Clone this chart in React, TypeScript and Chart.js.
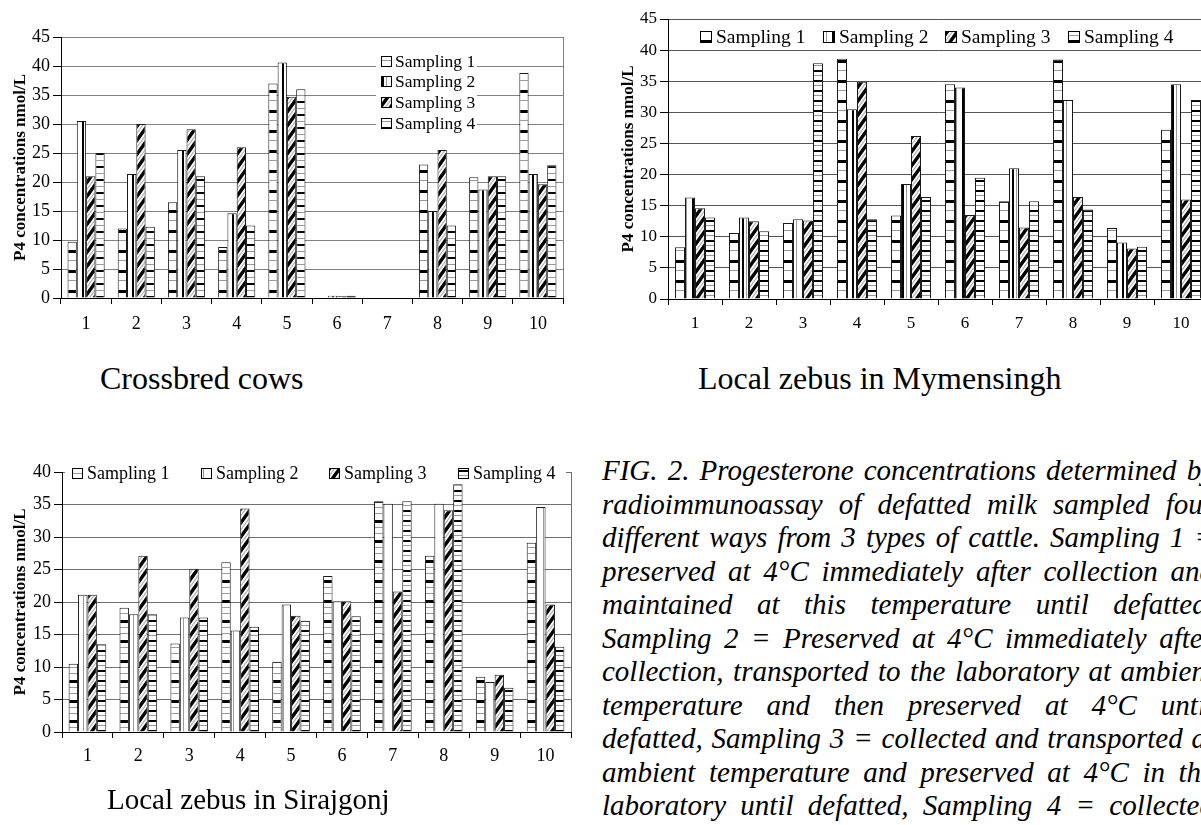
import React, { useEffect, useRef } from "react";
import { Chart, registerables } from "chart.js";

Chart.register(...registerables);

const SERIF = '"Liberation Serif", "Times New Roman", Times, serif';

const categories = ["1", "2", "3", "4", "5", "6", "7", "8", "9", "10"];
const seriesNames = ["Sampling 1", "Sampling 2", "Sampling 3", "Sampling 4"];
const yAxisTitle = "P4 concentrations nmol/L";

// Crossbred cows
const crossS1 = [9.7, 12.0, 16.5, 8.8, 37.0, 0.1, 0.1, 23.0, 20.8, 38.8];
const crossS2 = [30.5, 21.4, 25.5, 14.6, 40.6, 0.4, 0.1, 15.0, 18.7, 21.4];
const crossS3 = [21.0, 30.0, 29.1, 26.0, 34.7, 0.3, 0.1, 25.5, 21.0, 19.6];
const crossS4 = [25.0, 12.3, 21.0, 12.5, 36.0, 0.4, 0.1, 12.5, 21.0, 22.9];

// Local zebus in Mymensingh
const mymS1 = [8.3, 10.6, 12.2, 38.6, 13.4, 34.5, 15.7, 38.5, 11.4, 27.2];
const mymS2 = [16.3, 13.1, 12.8, 30.5, 18.5, 34.0, 21.0, 32.0, 9.1, 34.5];
const mymS3 = [14.6, 12.5, 12.6, 34.9, 26.2, 13.5, 11.5, 16.4, 8.1, 16.0];
const mymS4 = [13.1, 10.9, 37.9, 12.8, 16.4, 19.5, 15.7, 14.4, 8.4, 32.0];

// Local zebus in Sirajgonj
const sirS1 = [10.5, 19.1, 13.6, 26.1, 10.8, 24.0, 35.5, 27.1, 8.5, 29.1];
const sirS2 = [21.1, 18.1, 17.6, 15.6, 19.6, 20.1, 35.1, 35.1, 7.7, 34.6];
const sirS3 = [21.1, 27.1, 25.1, 34.4, 17.9, 20.1, 21.6, 34.1, 8.8, 19.6];
const sirS4 = [13.5, 18.1, 17.6, 16.2, 17.1, 17.8, 35.5, 38.1, 6.8, 13.1];

const panelTitles = ["Crossbred cows", "Local zebus in Mymensingh", "Local zebus in Sirajgonj"];

const captionLines = [
  "FIG. 2. Progesterone concentrations determined by",
  "radioimmunoassay of defatted milk sampled four",
  "different ways from 3 types of cattle. Sampling 1 =",
  "preserved at 4°C immediately after collection and",
  "maintained at this temperature until defatted,",
  "Sampling 2 = Preserved at 4°C immediately after",
  "collection, transported to the laboratory at ambient",
  "temperature and then preserved at 4°C until",
  "defatted, Sampling 3 = collected and transported at",
  "ambient temperature and preserved at 4°C in the",
  "laboratory until defatted, Sampling 4 = collected",
];

function makePattern(kind: string): CanvasPattern | string {
  const c = document.createElement("canvas");
  const g = c.getContext("2d");
  if (!g) return "#fff";
  const grey = "#9a9a9a";
  const white = (w: number, h: number) => {
    c.width = w;
    c.height = h;
    g.fillStyle = "#fff";
    g.fillRect(0, 0, w, h);
  };
  if (kind === "hdash") {
    white(10, 20);
    g.fillStyle = "#000";
    g.fillRect(0, 0, 10, 3);
    g.fillStyle = grey;
    g.fillRect(0, 10, 10, 1);
  } else if (kind === "hdashGrey") {
    white(10, 20);
    g.fillStyle = "#000";
    g.fillRect(0, 0, 10, 3);
    g.fillStyle = grey;
    g.fillRect(0, 7, 10, 1);
    g.fillRect(0, 13, 10, 1);
  } else if (kind === "vline") {
    white(10, 4);
    g.fillStyle = "#000";
    g.fillRect(2, 0, 2, 4);
    g.fillStyle = grey;
    g.fillRect(6, 0, 1, 4);
  } else if (kind === "vlineLight") {
    white(10, 4);
    g.fillStyle = grey;
    g.fillRect(3, 0, 1, 4);
  } else if (kind === "diag") {
    white(10, 14);
    const line = (k: number, color: string, lw: number) => {
      g.strokeStyle = color;
      g.lineWidth = lw;
      g.beginPath();
      g.moveTo(-3, 14 + 1.4 * 3 + 14 * k);
      g.lineTo(13, 14 - 1.4 * 13 + 14 * k);
      g.stroke();
    };
    for (const k of [-1, 0, 1]) line(k, "#000", 3.4);
    for (const k of [-1.5, -0.5, 0.5, 1.5]) line(k, "#b0b0b0", 1.2);
  } else if (kind.startsWith("hstripe")) {
    const s = parseInt(kind.slice(7), 10) || 10;
    white(10, s);
    g.fillStyle = "#000";
    g.fillRect(0, 0, 10, 2);
    g.fillStyle = grey;
    g.fillRect(0, Math.round(s / 2), 10, 1);
  }
  const p = g.createPattern(c, "repeat");
  return p || "#fff";
}

type LegendSpec = {
  x: number;
  y: number;
  dx: number;
  dy: number;
  icon: number;
  gap: number;
  fontSize: number;
  box?: [number, number, number, number];
};

type PanelSpec = {
  left: number;
  top: number;
  width: number;
  height: number;
  series: number[][];
  patterns: string[];
  yMax: number;
  yAxisWidth: number;
  xAxisHeight: number;
  padding: { left: number; right: number; top: number; bottom: number };
  gridColor: string;
  tickFont: number;
  titlePad: number;
  xLabelPad: number;
  legend: LegendSpec;
};

function Panel({ spec }: { spec: PanelSpec }) {
  const ref = useRef<HTMLCanvasElement>(null);
  useEffect(() => {
    const canvas = ref.current;
    if (!canvas) return;
    const fills = spec.patterns.map((k) => makePattern(k));
    const L = spec.legend;
    const deco = {
      id: "deco",
      afterDraw(chart: any) {
        const ctx = chart.ctx as CanvasRenderingContext2D;
        const a = chart.chartArea;
        ctx.save();
        ctx.strokeStyle = spec.gridColor;
        ctx.lineWidth = 1;
        const rx = Math.round(a.right) + 0.5;
        ctx.beginPath();
        ctx.moveTo(rx, a.top);
        ctx.lineTo(rx, a.bottom);
        ctx.stroke();
        if (L.box) {
          ctx.fillStyle = "#fff";
          ctx.fillRect(L.box[0], L.box[1], L.box[2], L.box[3]);
        }
        ctx.font = `${L.fontSize}px ${SERIF}`;
        ctx.textBaseline = "middle";
        ctx.textAlign = "left";
        chart.data.datasets.forEach((ds: any, i: number) => {
          const x = Math.round(L.x + L.dx * i);
          const y = L.y + L.dy * i;
          const iy = Math.round(y - L.icon / 2);
          ctx.fillStyle = ds.backgroundColor;
          ctx.fillRect(x, iy, L.icon, L.icon);
          ctx.strokeStyle = "#000";
          ctx.lineWidth = 1;
          ctx.strokeRect(x + 0.5, iy + 0.5, L.icon - 1, L.icon - 1);
          ctx.fillStyle = "#000";
          ctx.fillText(ds.label, x + L.icon + L.gap, y + 1);
        });
        ctx.restore();
      },
    };
    const chart = new Chart(canvas, {
      type: "bar",
      data: {
        labels: categories,
        datasets: spec.series.map((d, i) => ({
          label: seriesNames[i],
          data: d,
          backgroundColor: fills[i] as any,
          borderColor: "#1a1a1a",
          borderWidth: 1,
          barPercentage: 1,
          categoryPercentage: 0.74,
        })),
      },
      options: {
        responsive: false,
        animation: false,
        devicePixelRatio: 1,
        layout: { padding: spec.padding },
        plugins: {
          legend: { display: false },
          tooltip: { enabled: false },
        },
        scales: {
          x: {
            grid: {
              display: true,
              drawOnChartArea: false,
              drawTicks: true,
              tickLength: 6,
              color: "#000",
              offset: true,
            },
            border: { display: true, color: "#000", width: 1 },
            ticks: {
              font: { family: SERIF, size: spec.tickFont },
              color: "#000",
              padding: spec.xLabelPad,
              maxRotation: 0,
              autoSkip: false,
            },
            afterFit: (s: any) => {
              s.height = spec.xAxisHeight;
            },
          },
          y: {
            min: 0,
            max: spec.yMax,
            ticks: {
              stepSize: 5,
              font: { family: SERIF, size: spec.tickFont },
              color: "#000",
              padding: 3,
            },
            grid: {
              color: spec.gridColor,
              tickColor: "#000",
              tickLength: 8,
              drawTicks: true,
              lineWidth: 1,
            },
            border: { display: true, color: "#000", width: 1 },
            title: {
              display: true,
              text: yAxisTitle,
              color: "#000",
              font: { family: SERIF, size: 17, weight: "bold" },
              padding: { top: spec.titlePad, bottom: 0 },
            },
            afterFit: (s: any) => {
              s.width = spec.yAxisWidth;
            },
          },
        },
      },
      plugins: [deco],
    });
    return () => chart.destroy();
  }, []);
  return (
    <canvas
      ref={ref}
      width={spec.width}
      height={spec.height}
      style={{
        position: "absolute",
        left: spec.left,
        top: spec.top,
        width: spec.width,
        height: spec.height,
      }}
    />
  );
}

const crossSpec: PanelSpec = {
  left: 0,
  top: 10,
  width: 575,
  height: 330,
  series: [crossS1, crossS2, crossS3, crossS4],
  patterns: ["hdash", "vline", "diag", "hstripe13"],
  yMax: 45,
  yAxisWidth: 61,
  xAxisHeight: 42,
  padding: { left: 0, right: 12, top: 27, bottom: 0 },
  gridColor: "#808080",
  tickFont: 18,
  titlePad: 10,
  xLabelPad: 9,
  legend: { x: 381, y: 51, dx: 0, dy: 20.7, icon: 11, gap: 3, fontSize: 17.5, box: [376, 40, 101, 83] },
};

const mymSpec: PanelSpec = {
  left: 600,
  top: 0,
  width: 615,
  height: 340,
  series: [mymS1, mymS2, mymS3, mymS4],
  patterns: ["hdash", "vline", "diag", "hstripe10"],
  yMax: 45,
  yAxisWidth: 68,
  xAxisHeight: 41,
  padding: { left: 0, right: 7, top: 19, bottom: 0 },
  gridColor: "#555555",
  tickFont: 17,
  titlePad: 18,
  xLabelPad: 8,
  legend: { x: 100, y: 37, dx: 122.5, dy: 0, icon: 12, gap: 4, fontSize: 19.5 },
};

const sirSpec: PanelSpec = {
  left: 0,
  top: 440,
  width: 580,
  height: 345,
  series: [sirS1, sirS2, sirS3, sirS4],
  patterns: ["hdashGrey", "vlineLight", "diag", "hstripe10"],
  yMax: 40,
  yAxisWidth: 62,
  xAxisHeight: 53,
  padding: { left: 0, right: 9, top: 32, bottom: 0 },
  gridColor: "#707070",
  tickFont: 18,
  titlePad: 10,
  xLabelPad: 7,
  legend: { x: 72, y: 33, dx: 128.5, dy: 0, icon: 11, gap: 4, fontSize: 18, box: [65, 22, 501, 22] },
};

const titleStyle: React.CSSProperties = {
  position: "absolute",
  fontFamily: SERIF,
  fontSize: 32,
  lineHeight: "32px",
  whiteSpace: "nowrap",
  color: "#000",
};

export default function App() {
  return (
    <div
      style={{
        position: "absolute",
        left: 0,
        top: 0,
        width: 1201,
        height: 825,
        overflow: "hidden",
        background: "#fff",
      }}
    >
      <Panel spec={crossSpec} />
      <Panel spec={mymSpec} />
      <Panel spec={sirSpec} />
      <div style={{ ...titleStyle, left: 100, top: 362 }}>{panelTitles[0]}</div>
      <div style={{ ...titleStyle, left: 698, top: 362 }}>{panelTitles[1]}</div>
      <div style={{ ...titleStyle, left: 107, top: 785, fontSize: 29, lineHeight: "29px" }}>{panelTitles[2]}</div>
      {captionLines.map((t, i) => (
        <div
          key={i}
          style={{
            position: "absolute",
            left: 602,
            top: 454 + i * 33.5,
            width: 612,
            fontFamily: SERIF,
            fontStyle: "italic",
            fontSize: 29,
            lineHeight: "33.5px",
            textAlign: "justify",
            textAlignLast: "justify",
            color: "#000",
          }}
        >
          {t}
        </div>
      ))}
    </div>
  );
}
